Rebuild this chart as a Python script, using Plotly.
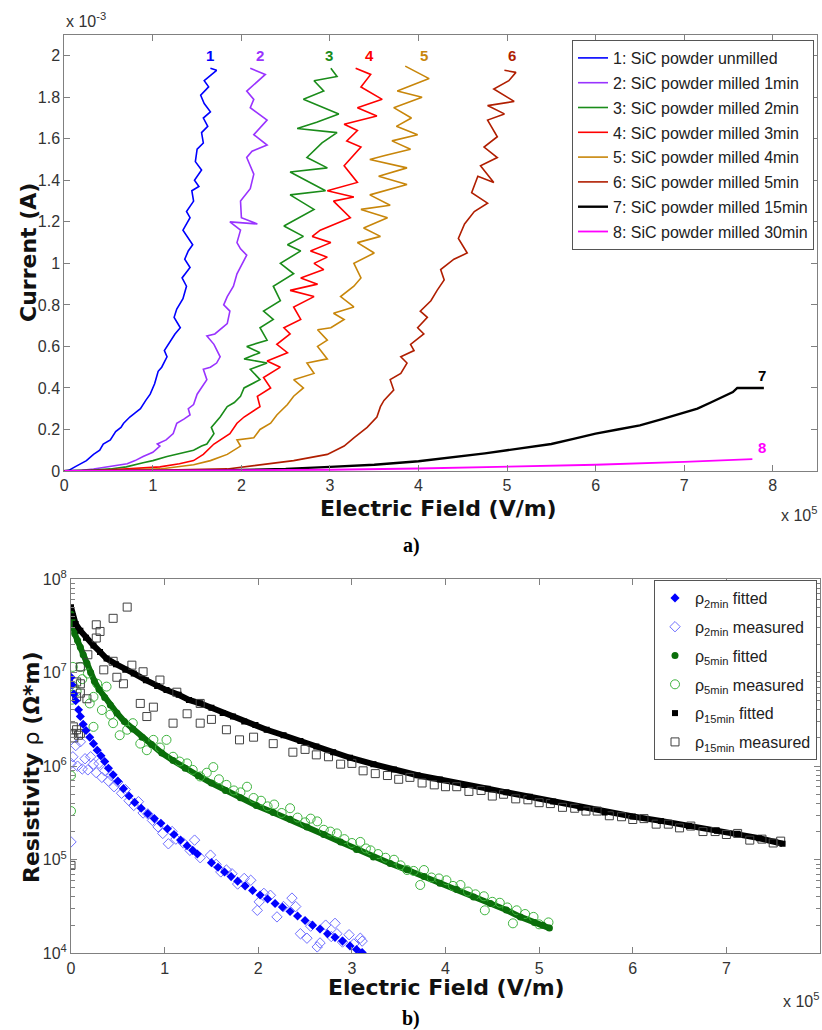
import plotly.graph_objects as go

# ---------------- (a) Current vs Electric field (x in 1e5 V/m, y in 1e-3 A) -------------
names_a = ["1: SiC powder unmilled", "2: SiC powder milled 1min", "3: SiC powder milled 2min",
           "4: SiC powder milled 3min", "5: SiC powder milled 4min", "6: SiC powder milled 5min",
           "7: SiC powder milled 15min", "8: SiC powder milled 30min"]
colors_a = ["#0000ff", "#9933ff", "#1a8c1a", "#ff0000", "#c8860a", "#b01e00", "#000000", "#ff00ff"]
widths_a = [1.6, 1.6, 1.6, 1.6, 1.6, 1.6, 2.4, 1.8]

x1 = [0.00, 0.05, 0.12, 0.20, 0.25, 0.33, 0.40, 0.44, 0.52, 0.58, 0.64, 0.67, 0.74, 0.80, 0.86, 0.92, 0.97, 1.02,
      1.06, 1.10, 1.16, 1.13, 1.20, 1.25, 1.31, 1.24, 1.27, 1.34, 1.38, 1.33, 1.42, 1.36, 1.40, 1.45, 1.34, 1.42,
      1.38, 1.46, 1.44, 1.52, 1.47, 1.55, 1.48, 1.50, 1.57, 1.55, 1.62, 1.57, 1.65, 1.58, 1.54, 1.63, 1.58, 1.72, 1.65]
y1 = [0.00, 0.003, 0.02, 0.04, 0.05, 0.08, 0.10, 0.13, 0.15, 0.19, 0.21, 0.23, 0.26, 0.28, 0.30, 0.34, 0.37, 0.42,
      0.48, 0.50, 0.55, 0.58, 0.63, 0.66, 0.69, 0.74, 0.78, 0.83, 0.89, 0.93, 0.98, 1.02, 1.06, 1.09, 1.16, 1.22,
      1.25, 1.30, 1.35, 1.37, 1.40, 1.45, 1.49, 1.55, 1.58, 1.63, 1.66, 1.70, 1.73, 1.77, 1.81, 1.85, 1.88, 1.93, 1.94]

x2 = [0.00, 0.20, 0.33, 0.50, 0.71, 0.80, 0.89, 1.00, 1.08, 1.05, 1.15, 1.23, 1.27, 1.35, 1.42, 1.40, 1.46, 1.50,
      1.55, 1.61, 1.57, 1.65, 1.72, 1.76, 1.69, 1.61, 1.70, 1.76, 1.84, 1.87, 1.80, 1.84, 1.91, 1.95, 2.06, 1.99,
      1.95, 1.99, 1.87, 2.18, 2.00, 1.99, 2.10, 2.14, 2.06, 2.12, 2.29, 2.14, 2.29, 2.10, 2.14, 2.06, 2.27, 2.10]
y2 = [0.00, 0.003, 0.01, 0.02, 0.035, 0.05, 0.07, 0.09, 0.12, 0.13, 0.15, 0.18, 0.23, 0.25, 0.27, 0.30, 0.32, 0.37,
      0.40, 0.44, 0.49, 0.50, 0.52, 0.55, 0.61, 0.65, 0.66, 0.68, 0.71, 0.77, 0.80, 0.84, 0.89, 0.95, 1.04, 1.07,
      1.10, 1.16, 1.20, 1.19, 1.22, 1.30, 1.36, 1.43, 1.51, 1.54, 1.57, 1.62, 1.69, 1.75, 1.79, 1.83, 1.91, 1.94]

x3 = [0.00, 0.30, 0.52, 0.70, 0.89, 1.00, 1.16, 1.30, 1.46, 1.55, 1.61, 1.69, 1.66, 1.76, 1.84, 1.92, 1.99, 2.03,
      2.21, 2.10, 2.29, 2.03, 2.21, 2.06, 2.29, 2.21, 2.36, 2.25, 2.44, 2.36, 2.59, 2.44, 2.67, 2.52, 2.70, 2.48,
      2.82, 2.55, 2.95, 2.55, 2.97, 2.74, 2.91, 3.08, 2.63, 2.85, 3.10, 2.70, 2.93, 2.82, 3.08, 3.01]
y3 = [0.00, 0.003, 0.01, 0.02, 0.04, 0.05, 0.07, 0.085, 0.10, 0.12, 0.13, 0.18, 0.21, 0.26, 0.31, 0.33, 0.36, 0.40,
      0.44, 0.49, 0.52, 0.54, 0.57, 0.60, 0.63, 0.69, 0.73, 0.77, 0.82, 0.89, 0.95, 1.00, 1.06, 1.09, 1.13, 1.18,
      1.26, 1.33, 1.35, 1.44, 1.46, 1.51, 1.58, 1.63, 1.65, 1.68, 1.72, 1.79, 1.83, 1.88, 1.90, 1.94]

x4 = [0.00, 0.40, 0.71, 1.08, 1.30, 1.46, 1.57, 1.69, 1.87, 1.95, 2.03, 2.21, 2.18, 2.33, 2.25, 2.44, 2.29, 2.52,
      2.40, 2.55, 2.48, 2.67, 2.59, 2.82, 2.55, 2.86, 2.67, 2.93, 2.82, 2.97, 2.78, 3.01, 2.80, 2.89, 3.23, 3.04,
      3.27, 2.97, 3.31, 3.16, 3.35, 3.19, 3.31, 3.16, 3.53, 3.31, 3.59, 3.35, 3.46, 3.29]
y4 = [0.00, 0.003, 0.01, 0.02, 0.035, 0.05, 0.08, 0.13, 0.18, 0.23, 0.26, 0.31, 0.36, 0.40, 0.45, 0.50, 0.53, 0.57,
      0.61, 0.66, 0.69, 0.73, 0.79, 0.84, 0.87, 0.90, 0.93, 0.97, 1.00, 1.03, 1.06, 1.10, 1.13, 1.16, 1.22, 1.30,
      1.32, 1.35, 1.39, 1.47, 1.56, 1.59, 1.64, 1.67, 1.71, 1.75, 1.79, 1.85, 1.91, 1.94]

x5 = [0.00, 0.60, 1.08, 1.46, 1.65, 1.84, 1.99, 1.95, 2.14, 2.21, 2.33, 2.40, 2.52, 2.59, 2.70, 2.59, 2.82, 2.74,
      2.97, 2.86, 2.97, 2.86, 3.01, 3.16, 3.04, 3.27, 3.12, 3.27, 3.35, 3.27, 3.50, 3.31, 3.57, 3.38, 3.65, 3.35,
      3.68, 3.45, 3.87, 3.55, 3.87, 3.45, 3.62, 3.91, 3.70, 3.99, 3.75, 3.92, 3.72, 4.04, 3.76, 4.12, 3.85]
y5 = [0.00, 0.003, 0.01, 0.03, 0.05, 0.08, 0.12, 0.15, 0.16, 0.20, 0.23, 0.27, 0.32, 0.36, 0.40, 0.44, 0.47, 0.52,
      0.54, 0.60, 0.63, 0.68, 0.69, 0.73, 0.76, 0.79, 0.84, 0.89, 0.93, 1.00, 1.05, 1.10, 1.13, 1.17, 1.22, 1.26,
      1.28, 1.33, 1.38, 1.42, 1.46, 1.50, 1.52, 1.55, 1.59, 1.62, 1.66, 1.70, 1.75, 1.80, 1.83, 1.89, 1.95]

x6 = [0.00, 1.00, 1.84, 2.21, 2.59, 2.97, 3.16, 3.27, 3.42, 3.53, 3.57, 3.61, 3.72, 3.68, 3.80, 3.87, 3.80, 3.95,
      3.91, 4.06, 3.99, 4.10, 4.02, 4.14, 4.21, 4.29, 4.25, 4.40, 4.55, 4.45, 4.52, 4.63, 4.78, 4.60, 4.67, 4.85,
      4.70, 4.89, 4.74, 4.89, 4.78, 4.97, 4.78, 5.08, 4.85, 5.02, 5.10, 4.97]
y6 = [0.00, 0.003, 0.01, 0.03, 0.05, 0.08, 0.12, 0.16, 0.21, 0.26, 0.31, 0.34, 0.39, 0.44, 0.47, 0.52, 0.55, 0.58,
      0.61, 0.66, 0.69, 0.74, 0.77, 0.82, 0.87, 0.92, 0.97, 1.02, 1.05, 1.12, 1.19, 1.25, 1.29, 1.34, 1.42, 1.39,
      1.47, 1.51, 1.56, 1.61, 1.69, 1.72, 1.76, 1.78, 1.84, 1.88, 1.92, 1.93]

x7 = [0.00, 0.80, 1.50, 2.00, 2.50, 3.00, 3.50, 4.00, 4.25, 4.50, 4.75, 5.00, 5.25, 5.50, 5.75, 6.00, 6.25, 6.50,
      6.75, 7.00, 7.15, 7.30, 7.45, 7.55, 7.60, 7.90]
y7 = [0.00, 0.00, 0.002, 0.005, 0.010, 0.020, 0.030, 0.047, 0.060, 0.070, 0.085, 0.100, 0.115, 0.130, 0.155, 0.180,
      0.200, 0.220, 0.250, 0.280, 0.300, 0.330, 0.360, 0.380, 0.400, 0.400]

x8 = [0.00, 1.00, 2.00, 3.00, 4.00, 5.00, 6.00, 7.00, 7.77]
y8 = [0.000, 0.001, 0.003, 0.006, 0.012, 0.020, 0.030, 0.044, 0.057]

curve_labels = ["1", "2", "3", "4", "5", "6", "7", "8"]
label_x = [1.64, 2.21, 2.99, 3.45, 4.06, 5.06, 7.88, 7.88]
label_y = [2.00, 2.00, 2.00, 2.00, 2.00, 2.00, 0.46, 0.115]

xs_a = [x1, x2, x3, x4, x5, x6, x7, x8]
ys_a = [y1, y2, y3, y4, y5, y6, y7, y8]
for xa, ya in zip(xs_a, ys_a):
    assert len(xa) == len(ya), (len(xa), len(ya))

# ---------------- (b) Resistivity vs Electric field (x in 1e5 V/m, rho in Ohm*m) ---------
E_2fit = [0, 0.01, 0.03, 0.05, 0.08, 0.10, 0.13, 0.16, 0.20, 0.24, 0.28, 0.32, 0.36, 0.40, 0.45, 0.50, 0.56, 0.62,
          0.68, 0.75, 0.82, 0.89, 0.96, 1.03, 1.10, 1.17, 1.24, 1.30, 1.35, 1.50, 1.57, 1.64, 1.71, 1.78, 1.86, 1.94,
          2.02, 2.10, 2.18, 2.26, 2.34, 2.42, 2.50, 2.58, 2.66, 2.74, 2.82, 2.90, 2.98, 3.05, 3.11]
R_2fit = [8.9e6, 7.4e6, 5.9e6, 5.0e6, 4.0e6, 3.4e6, 2.8e6, 2.4e6, 2.04e6, 1.74e6, 1.48e6, 1.29e6, 1.12e6, 9.5e5,
          8.1e5, 6.9e5, 5.75e5, 4.8e5, 4.1e5, 3.55e5, 3.1e5, 2.75e5, 2.45e5, 2.14e5, 1.86e5, 1.62e5, 1.41e5, 1.26e5,
          1.15e5, 9.3e4, 8.3e4, 7.4e4, 6.6e4, 5.9e4, 5.25e4, 4.7e4, 4.2e4, 3.8e4, 3.4e4, 3.1e4, 2.8e4, 2.5e4,
          2.24e4, 2.0e4, 1.82e4, 1.62e4, 1.48e4, 1.35e4, 1.2e4, 1.1e4, 1.02e4]

E_2meas = [0.00, 0.00, 0.02, 0.05, 0.07, 0.10, 0.12, 0.15, 0.18, 0.21, 0.24, 0.27, 0.30, 0.33, 0.36, 0.40, 0.43,
           0.46, 0.50, 0.54, 0.58, 0.62, 0.67, 0.72, 0.77, 0.82, 0.87, 0.93, 0.98, 1.04, 1.08, 1.12, 1.20, 1.27,
           1.32, 1.38, 1.49, 1.55, 1.60, 1.66, 1.72, 1.78, 1.85, 1.92, 1.99, 2.01, 2.06, 2.13, 2.20, 2.27, 2.36,
           2.40, 2.45, 2.52, 2.56, 2.63, 2.66, 2.72, 2.78, 2.82, 2.84, 2.90, 2.97, 3.02, 3.09, 3.11]
R_2meas = [1.55e5, 1.07e6, 1.26e6, 1.66e6, 1.0e6, 1.82e6, 9.33e5, 1.20e6, 9.12e5, 1.26e6, 1.05e6, 8.51e5, 1.07e6,
           7.59e5, 8.91e5, 6.92e5, 7.94e5, 6.03e5, 6.76e5, 5.13e5, 5.62e5, 4.27e5, 3.80e5, 4.17e5, 3.16e5, 3.09e5,
           2.63e5, 2.24e5, 1.91e5, 1.48e5, 2.0e5, 1.66e5, 1.51e5, 1.26e5, 1.62e5, 1.05e5, 1.12e5, 8.91e4, 7.41e4,
           7.76e4, 7.08e4, 5.50e4, 6.31e4, 6.03e4, 2.88e4, 3.55e4, 4.37e4, 4.17e4, 2.45e4, 3.16e4, 3.89e4, 3.16e4,
           1.62e4, 1.45e4, 1.95e4, 1.17e4, 1.29e4, 2.0e4, 1.51e4, 2.09e4, 1.62e4, 1.32e4, 1.58e4, 1.26e4, 1.45e4,
           1.35e4]

E_5fit = [0, 0.01, 0.02, 0.04, 0.07, 0.10, 0.13, 0.17, 0.21, 0.25, 0.30, 0.36, 0.42, 0.49, 0.57, 0.66, 0.76, 0.86,
          0.97, 1.09, 1.22, 1.36, 1.50, 1.65, 1.81, 1.98, 2.16, 2.34, 2.52, 2.70, 2.88, 3.05, 3.23, 3.41, 3.59, 3.77,
          3.94, 4.12, 4.30, 4.48, 4.65, 4.80, 4.95, 5.04, 5.11]
R_5fit = [4.2e7, 3.7e7, 3.3e7, 2.6e7, 2.2e7, 1.86e7, 1.55e7, 1.26e7, 1.0e7, 8.1e6, 6.6e6, 5.4e6, 4.5e6, 3.7e6,
          3.0e6, 2.5e6, 2.04e6, 1.7e6, 1.38e6, 1.15e6, 9.5e5, 7.9e5, 6.6e5, 5.5e5, 4.6e5, 3.8e5, 3.2e5, 2.7e5,
          2.24e5, 1.86e5, 1.55e5, 1.29e5, 1.07e5, 9.1e4, 7.8e4, 6.6e4, 5.6e4, 4.8e4, 4.0e4, 3.4e4, 2.9e4, 2.45e4,
          2.14e4, 2.0e4, 1.86e4]

E_5meas = [0.00, 0.00, 0.01, 0.02, 0.03, 0.06, 0.10, 0.12, 0.18, 0.20, 0.24, 0.28, 0.24, 0.33, 0.38, 0.42, 0.45,
           0.52, 0.60, 0.66, 0.74, 0.81, 0.88, 0.95, 1.02, 1.09, 1.16, 1.24, 1.30, 1.38, 1.45, 1.52, 1.58, 1.66,
           1.74, 1.81, 1.88, 1.95, 2.03, 2.10, 2.17, 2.25, 2.34, 2.42, 2.50, 2.56, 2.63, 2.70, 2.77, 2.84, 2.92,
           3.00, 3.09, 3.15, 3.20, 3.28, 3.36, 3.45, 3.52, 3.59, 3.66, 3.73, 3.77, 3.85, 3.93, 4.01, 4.08, 4.16,
           4.24, 4.32, 4.41, 4.42, 4.50, 4.58, 4.66, 4.72, 4.76, 4.85, 4.94, 5.00, 5.10]
R_5meas = [3.31e5, 7.94e5, 5.13e6, 1.15e7, 7.08e6, 6.31e6, 1.15e7, 8.51e6, 9.77e6, 4.68e6, 5.50e6, 7.59e6, 2.63e6,
           3.98e6, 7.08e6, 3.55e6, 2.88e6, 2.14e6, 2.45e6, 2.88e6, 1.74e6, 1.48e6, 1.91e6, 1.58e6, 1.91e6, 1.26e6,
           1.12e6, 1.07e6, 9.12e5, 7.76e5, 8.51e5, 9.77e5, 7.24e5, 6.31e5, 5.50e5, 5.25e5, 6.03e5, 4.57e5, 4.27e5,
           3.72e5, 3.89e5, 3.16e5, 3.55e5, 2.82e5, 2.51e5, 2.75e5, 2.57e5, 2.09e5, 2.0e5, 1.91e5, 1.66e5, 1.51e5,
           1.55e5, 1.32e5, 1.26e5, 1.15e5, 1.05e5, 1.0e5, 8.71e4, 7.76e4, 7.59e4, 5.37e4, 7.76e4, 6.46e4, 6.31e4,
           6.03e4, 5.25e4, 5.37e4, 4.57e4, 4.27e4, 4.07e4, 2.88e4, 3.55e4, 3.47e4, 3.09e4, 2.09e4, 2.88e4, 2.63e4,
           2.45e4, 2.04e4, 2.14e4]

E_15fit = [0, 0.02, 0.05, 0.10, 0.16, 0.24, 0.31, 0.38, 0.48, 0.58, 0.67, 0.80, 0.92, 1.02, 1.15, 1.26, 1.38, 1.50,
           1.62, 1.73, 1.85, 1.97, 2.09, 2.27, 2.45, 2.62, 2.80, 2.98, 3.23, 3.45, 3.70, 3.94, 4.20, 4.45, 4.65, 4.90,
           5.15, 5.44, 5.70, 6.00, 6.30, 6.60, 6.90, 7.12, 7.35, 7.60]
R_15fit = [5.0e7, 4.0e7, 3.3e7, 2.8e7, 2.35e7, 1.95e7, 1.66e7, 1.41e7, 1.23e7, 1.07e7, 9.8e6, 8.3e6, 7.2e6, 6.5e6,
           5.8e6, 5.1e6, 4.7e6, 4.2e6, 3.7e6, 3.4e6, 3.0e6, 2.75e6, 2.45e6, 2.14e6, 1.86e6, 1.62e6, 1.41e6, 1.23e6,
           1.05e6, 9.2e5, 8.0e5, 7.2e5, 6.3e5, 5.75e5, 5.25e5, 4.7e5, 4.2e5, 3.6e5, 3.2e5, 2.9e5, 2.6e5, 2.3e5,
           2.04e5, 1.9e5, 1.7e5, 1.48e5]

E_15meas = [0.00, 0.01, 0.03, 0.06, 0.10, 0.025, 0.08, 0.06, 0.10, 0.06, 0.10, 0.17, 0.10, 0.18, 0.27, 0.31, 0.27,
            0.45, 0.60, 0.35, 0.45, 0.49, 0.56, 0.65, 0.77, 0.74, 0.88, 0.81, 0.95, 1.13, 1.09, 1.24, 1.38, 1.38,
            1.50, 1.66, 1.80, 1.95, 2.16, 2.37, 2.50, 2.62, 2.75, 2.88, 3.00, 3.12, 3.25, 3.38, 3.50, 3.62, 3.75,
            3.88, 4.00, 4.12, 4.25, 4.38, 4.50, 4.62, 4.75, 4.88, 5.00, 5.12, 5.25, 5.38, 5.50, 5.62, 5.75, 5.88,
            6.00, 6.12, 6.25, 6.38, 6.50, 6.62, 6.75, 6.88, 7.00, 7.12, 7.25, 7.38, 7.50, 7.58]
R_15meas = [8.71e4, 2.24e6, 2.0e6, 2.45e6, 2.24e6, 2.63e6, 2.14e6, 7.94e6, 7.59e6, 5.50e6, 6.03e6, 5.25e6, 1.15e7,
            1.55e7, 2.34e7, 2.75e7, 3.24e7, 3.80e7, 5.01e7, 1.07e7, 1.32e7, 8.91e6, 7.59e6, 1.20e7, 1.02e7, 4.68e6,
            4.27e6, 3.39e6, 8.32e6, 6.17e6, 2.88e6, 3.63e6, 4.68e6, 2.88e6, 3.16e6, 2.45e6, 1.91e6, 2.04e6, 1.74e6,
            1.41e6, 1.51e6, 1.32e6, 1.26e6, 1.05e6, 1.07e6, 8.91e5, 8.32e5, 7.94e5, 7.24e5, 7.59e5, 6.61e5, 6.31e5,
            6.03e5, 6.03e5, 5.37e5, 5.50e5, 4.79e5, 5.01e5, 4.47e5, 4.37e5, 4.07e5, 3.98e5, 3.63e5, 3.55e5, 3.31e5,
            3.31e5, 2.95e5, 2.88e5, 2.69e5, 2.75e5, 2.40e5, 2.40e5, 2.19e5, 2.29e5, 2.0e5, 2.0e5, 1.86e5, 1.91e5,
            1.62e5, 1.66e5, 1.51e5, 1.58e5]

for ea, ra in [(E_2fit, R_2fit), (E_2meas, R_2meas), (E_5fit, R_5fit), (E_5meas, R_5meas),
               (E_15fit, R_15fit), (E_15meas, R_15meas)]:
    assert len(ea) == len(ra), (len(ea), len(ra))

x_ticks_a = [0, 1, 2, 3, 4, 5, 6, 7, 8]
y_ticks_a = [0, 0.2, 0.4, 0.6, 0.8, 1.0, 1.2, 1.4, 1.6, 1.8, 2.0]
y_ticktext_a = ["0", "0.2", "0.4", "0.6", "0.8", "1", "1.2", "1.4", "1.6", "1.8", "2"]
x_ticks_b = [0, 1, 2, 3, 4, 5, 6, 7, 8]
y_ticks_b = [1e4, 1e5, 1e6, 1e7, 1e8]
y_ticktext_b = ["10<sup>4</sup>", "10<sup>5</sup>", "10<sup>6</sup>", "10<sup>7</sup>", "10<sup>8</sup>"]

# ---------------- figure ----------------
W, H = 822, 1030
def px(x):
    return x / W
def py(y):
    return 1 - y / H

NARROW = "Liberation Sans Narrow, Arial Narrow, Liberation Sans, Arial, sans-serif"
SANS = "Liberation Sans, Arial, sans-serif"
TITLEF = "DejaVu Sans, Liberation Sans, Arial, sans-serif"
SERIF = "Liberation Serif, Times New Roman, serif"
AXC = "#808080"
TXT = "#333333"

fig = go.Figure()

for i in range(8):
    fig.add_trace(go.Scatter(x=xs_a[i], y=ys_a[i], mode="lines", name=names_a[i],
                             line=dict(color=colors_a[i], width=widths_a[i]),
                             xaxis="x", yaxis="y", legend="legend",
                             legendgroup="a%d" % i))

# bottom plot: line underlays for the dense fitted bands
fig.add_trace(go.Scatter(x=E_5fit, y=R_5fit, mode="lines", line=dict(color="#0a6e0a", width=6),
                         showlegend=False, xaxis="x2", yaxis="y2", hoverinfo="skip"))
fig.add_trace(go.Scatter(x=E_15fit, y=R_15fit, mode="lines", line=dict(color="#000000", width=6),
                         showlegend=False, xaxis="x2", yaxis="y2", hoverinfo="skip"))

b_specs = [
    ("ρ<sub>2min</sub> fitted", E_2fit, R_2fit, dict(symbol="diamond", size=7, color="#0000ff"), 1),
    ("ρ<sub>2min</sub> measured", E_2meas, R_2meas,
     dict(symbol="diamond-open", size=8, color="#6f6fff", line=dict(width=1)), 2),
    ("ρ<sub>5min</sub> fitted", E_5fit, R_5fit, dict(symbol="circle", size=7, color="#0a6e0a"), 3),
    ("ρ<sub>5min</sub> measured", E_5meas, R_5meas,
     dict(symbol="circle-open", size=9, color="#3fb43f", line=dict(width=1)), 4),
    ("ρ<sub>15min</sub> fitted", E_15fit, R_15fit, dict(symbol="square", size=6, color="#000000"), 5),
    ("ρ<sub>15min</sub> measured", E_15meas, R_15meas,
     dict(symbol="square-open", size=8, color="#404040", line=dict(width=1)), 6),
]
# draw measured first, fitted on top; legend order kept via legendrank
order = [1, 3, 5, 0, 2, 4]
for k in order:
    nm, ex, rr, mk, rank = b_specs[k]
    fig.add_trace(go.Scatter(x=ex, y=rr, mode="markers", name=nm, marker=mk,
                             xaxis="x2", yaxis="y2", legend="legend2",
                             legendrank=rank, legendgroup="b%d" % rank))

axis_common = dict(showgrid=False, zeroline=False, showline=True, linecolor=AXC, linewidth=1,
                   mirror="ticks", ticks="inside", ticklen=6, tickcolor=AXC, tickwidth=1,
                   automargin=False,
                   tickfont=dict(family=SANS, size=16, color=TXT))

fig.update_layout(
    width=W, height=H, margin=dict(l=0, r=0, t=0, b=0, pad=0, autoexpand=False),
    paper_bgcolor="white", plot_bgcolor="white",
    xaxis=dict(domain=[px(64.3), px(817)], anchor="y", range=[0, 8.5],
               tickmode="array", tickvals=x_ticks_a, **axis_common),
    yaxis=dict(domain=[py(471), py(35)], anchor="x", range=[0, 2.1],
               tickmode="array", tickvals=y_ticks_a, ticktext=y_ticktext_a, **axis_common),
    xaxis2=dict(domain=[px(71), px(820)], anchor="y2", range=[0, 8],
                tickmode="array", tickvals=x_ticks_b, **axis_common),
    yaxis2=dict(domain=[py(953.3), py(579)], anchor="x2", type="log", range=[4, 8],
                tickmode="array", tickvals=y_ticks_b, ticktext=y_ticktext_b,
                minor=dict(ticks="inside", ticklen=4, tickcolor=AXC, dtick="D1", showgrid=False),
                **axis_common),
    legend=dict(x=px(814), xanchor="right", y=py(40), yanchor="top",
                bgcolor="white", bordercolor="#555555", borderwidth=1,
                font=dict(family=SANS, size=16, color="#222222"),
                traceorder="grouped", tracegroupgap=1, itemwidth=30),
    legend2=dict(x=px(817), xanchor="right", y=py(580), yanchor="top",
                 bgcolor="white", bordercolor="#555555", borderwidth=1,
                 font=dict(family=SANS, size=16, color="#222222"),
                 traceorder="grouped", tracegroupgap=5, itemwidth=30),
    showlegend=True,
)

ann = []
# curve number labels (data coordinates)
for i in range(8):
    ann.append(dict(x=label_x[i], y=label_y[i], xref="x", yref="y", text="<b>%s</b>" % curve_labels[i],
                    showarrow=False, font=dict(family=NARROW, size=15, color=colors_a[i]),
                    xanchor="center", yanchor="middle"))

def pann(x, y, text, size, family, color="#111111", xanchor="center", angle=0):
    return dict(x=px(x), y=py(y), xref="paper", yref="paper", text=text, textangle=angle,
                xanchor=xanchor, yanchor="middle", showarrow=False,
                font=dict(family=family, size=size, color=color))

ann += [
    pann(28, 253, "<b>Current (A)</b>", 22, TITLEF, angle=-90),
    pann(438, 508, "<b>Electric Field (V/m)</b>", 22, TITLEF),
    pann(64, 20, "x 10<sup>-3</sup>", 16, SANS, TXT, xanchor="left"),
    pann(819, 514, "x 10<sup>5</sup>", 16, SANS, TXT, xanchor="right"),
    pann(411, 545, "<b>a)</b>", 20, SERIF, "black"),
    pann(31, 767, "<b>Resistivity</b> ρ <b>(Ω*m)</b>", 22, TITLEF, angle=-90),
    pann(447, 987, "<b>Electric Field (V/m)</b>", 22, TITLEF),
    pann(821, 1000, "x 10<sup>5</sup>", 16, SANS, TXT, xanchor="right"),
    pann(411, 1018, "<b>b)</b>", 20, SERIF, "black"),
]
fig.update_layout(annotations=ann)

fig.write_html("out.html",
               config={"displayModeBar": False},
               post_script="document.body.style.margin='0px';document.body.style.padding='0px';"
                           "document.documentElement.style.overflow='hidden';")
